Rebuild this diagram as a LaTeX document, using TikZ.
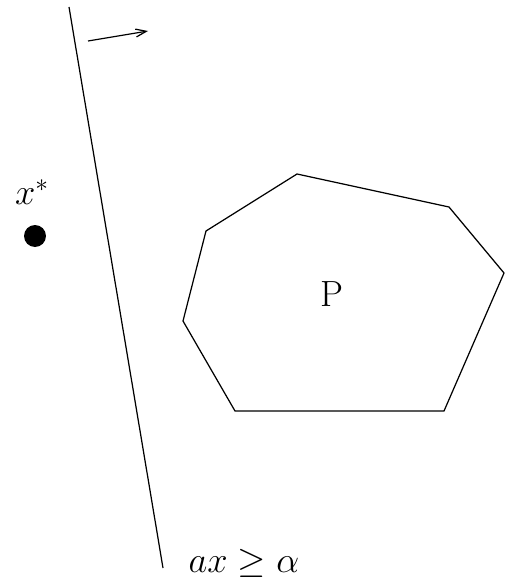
\documentclass[tikz,border=0pt]{standalone}
\usepackage{amsmath}
\usepackage{amssymb}
\usepackage{tikz}
\usetikzlibrary{arrows.meta}

\begin{document}
\begin{tikzpicture}[
        x=0.02cm, y=-0.02cm,
        edge/.style = {draw=black, line width=0.7pt},
        arrow/.style = {edge, -{Straight Barb[length=6pt, width=4.5pt]}},
        point/.style = {circle, fill=black, inner sep=0pt, minimum size=0.44cm},
        lbl/.style = {font=\huge, inner sep=0pt}
    ]
        \useasboundingbox (0,0) rectangle (504,581);

        % Cutting plane
        \coordinate (cutTop) at (69,7);
        \coordinate (cutBot) at (163,568);
        \draw [edge] (cutTop) -- (cutBot);
        \node (cutLabel) [lbl] at (244,563) {$ax \geq \alpha$};

        % Direction of the half space
        \coordinate (dirStart) at (88,41);
        \coordinate (dirEnd) at (148,31);
        \draw [arrow] (dirStart) -- (dirEnd);

        % Point outside
        \node (xstar) [point] at (35,236) {};
        \node (xstarLabel) [lbl] at (32,192) {$x^*$};

        % Polytope
        \draw [edge, line join=miter] (297,174) -- (449,207) -- (504,273) -- (444,411)
            -- (235,411) -- (183,321) -- (206,231) -- cycle;
        \node (polyLabel) [lbl] at (332,294) {P};

    \end{tikzpicture}
\end{document}
